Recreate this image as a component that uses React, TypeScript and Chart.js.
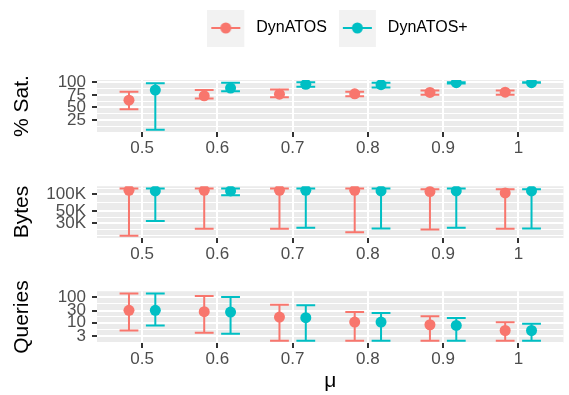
import React, { useEffect, useRef } from 'react';
import { Chart, registerables } from 'chart.js';

Chart.register(...registerables);

// ---------------- data ----------------
const muLabels = ['0.5', '0.6', '0.7', '0.8', '0.9', '1'];
const muValues = [0.5, 0.6, 0.7, 0.8, 0.9, 1.0];
const seriesNames = ['DynATOS', 'DynATOS+'];

// % Sat.
const satDynMean = [64.5, 73.2, 76.5, 77.2, 79.9, 80.5];
const satDynLow = [46.5, 67.9, 70.5, 72.5, 75.2, 75.5];
const satDynHigh = [81.2, 84.6, 85.9, 81.2, 83.9, 83.9];
const satPlusMean = [84.6, 88.6, 96.0, 95.3, 99.3, 99.4];
const satPlusLow = [5.7, 82.5, 91.2, 90.0, 97.5, 99.0];
const satPlusHigh = [98.0, 99.3, 100.0, 99.3, 100.0, 100.0];

// Bytes
const bytesDynMean = [118000, 118000, 118000, 118000, 112000, 106000];
const bytesDynLow = [17900, 23800, 23800, 20600, 23200, 23800];
const bytesDynHigh = [127000, 127000, 127000, 127000, 124000, 124000];
const bytesPlusMean = [115000, 115000, 118000, 115000, 115000, 115000];
const bytesPlusLow = [33000, 95800, 24800, 24100, 24800, 24100];
const bytesPlusHigh = [127000, 127000, 127000, 127000, 127000, 124000];

// Queries
const qDynMean = [30.8, 27.3, 16.7, 10.7, 8.4, 5.0];
const qDynLow = [5.0, 4.1, 2.0, 2.0, 2.0, 2.0];
const qDynHigh = [140, 113, 51.5, 26.3, 17.9, 10.4];
const qPlusMean = [30.8, 26.3, 15.9, 10.7, 7.9, 5.0];
const qPlusLow = [7.9, 3.7, 2.0, 2.0, 2.0, 2.0];
const qPlusHigh = [140, 103, 48.4, 24.1, 15.3, 9.2];

// tick breaks
const satTicks = [25, 50, 75, 100];
const satTickLabels = ['25', '50', '75', '100'];
const bytesTicks = [30000, 50000, 100000];
const bytesTickLabels = ['30K', '50K', '100K'];
const qTicks = [3, 10, 30, 100];
const qTickLabels = ['3', '10', '30', '100'];

// ---------------- style ----------------
const RED = '#F8766D';
const TEAL = '#00BFC4';
const FONT = "'Liberation Sans', Arial, Helvetica, sans-serif";
const TICK_COLOR = '#4D4D4D';
const PANEL_BG = '#EBEBEB';
const TICK_SIZE = 17;
const TITLE_SIZE = 21;
const DODGE = 0.0175;
const CAP = 0.0125;
const X_MIN = 0.44;
const X_MAX = 1.06;
const Y_AXIS_W = 97;
const LEGEND_H = 72;
const LEGEND_CX = 337.5;

function expand(lo: number, hi: number, log: boolean): [number, number] {
  if (log) {
    const a = Math.log10(lo), b = Math.log10(hi), d = (b - a) * 0.05;
    return [Math.pow(10, a - d), Math.pow(10, b + d)];
  }
  const d = (hi - lo) * 0.05;
  return [lo - d, hi + d];
}

// ggplot-like minor breaks (in transformed space)
function minorBreaks(majors: number[], lo: number, hi: number, log: boolean): number[] {
  const tf = (v: number) => (log ? Math.log10(v) : v);
  const inv = (v: number) => (log ? Math.pow(10, v) : v);
  const b = majors.map(tf);
  const L = tf(lo), H = tf(hi);
  const bd = b[1] - b[0];
  if (L < b[0]) b.unshift(b[0] - bd);
  if (H > b[b.length - 1]) b.push(b[b.length - 1] + bd);
  const out: number[] = [];
  for (let i = 0; i < b.length - 1; i++) {
    out.push(b[i]);
    out.push((b[i] + b[i + 1]) / 2);
  }
  out.push(b[b.length - 1]);
  const majorT = majors.map(tf);
  return out
    .filter((v) => v > L && v < H && !majorT.some((m) => Math.abs(m - v) < 1e-9))
    .map(inv);
}

// ---------------- plugins ----------------
const panelBg = {
  id: 'panelBg',
  beforeDraw(chart: any) {
    const { ctx, chartArea: a } = chart;
    ctx.save();
    ctx.fillStyle = PANEL_BG;
    ctx.fillRect(a.left, a.top, a.right - a.left, a.bottom - a.top);
    ctx.restore();
  },
};

const errorBars = {
  id: 'errorBars',
  beforeDatasetsDraw(chart: any) {
    const { ctx } = chart;
    const x = chart.scales.x;
    const y = chart.scales.y;
    chart.data.datasets.forEach((ds: any) => {
      if (!ds.errLow) return;
      ctx.save();
      ctx.strokeStyle = ds.borderColor;
      ctx.lineWidth = 2;
      ds.data.forEach((pt: any, i: number) => {
        const xc = x.getPixelForValue(pt.x);
        const xl = x.getPixelForValue(pt.x - CAP);
        const xr = x.getPixelForValue(pt.x + CAP);
        const yl = y.getPixelForValue(ds.errLow[i]);
        const yh = y.getPixelForValue(ds.errHigh[i]);
        ctx.beginPath();
        ctx.moveTo(xc, yl);
        ctx.lineTo(xc, yh);
        ctx.moveTo(xl, yl);
        ctx.lineTo(xr, yl);
        ctx.moveTo(xl, yh);
        ctx.lineTo(xr, yh);
        ctx.stroke();
      });
      ctx.restore();
    });
  },
};

const legendTweak = {
  id: 'legendTweak',
  beforeLayout(chart: any) {
    const lg = chart.legend;
    if (lg && !lg._patchedFit) {
      const orig = lg.fit;
      lg.fit = function () {
        orig.call(this);
        if (this.options && this.options.display) this.height = LEGEND_H;
      };
      lg._patchedFit = true;
    }
  },
  afterLayout(chart: any) {
    const lg = chart.legend;
    if (!lg || !lg.options.display) return;
    const half = Math.min(LEGEND_CX, chart.width - LEGEND_CX);
    lg.left = LEGEND_CX - half;
    lg.right = LEGEND_CX + half;
    lg.width = 2 * half;
  },
};

function makeGlyph(color: string): HTMLCanvasElement {
  const c = document.createElement('canvas');
  c.width = 41;
  c.height = 38;
  const g = c.getContext('2d')!;
  g.fillStyle = '#F2F2F2';
  g.fillRect(0, 1, 37, 37);
  g.strokeStyle = color;
  g.lineWidth = 2;
  g.beginPath();
  g.moveTo(4, 19);
  g.lineTo(33, 19);
  g.stroke();
  g.fillStyle = color;
  g.beginPath();
  g.arc(18.5, 19, 5.5, 0, Math.PI * 2);
  g.fill();
  return c;
}

interface PanelSpec {
  log: boolean;
  means: number[][];
  lows: number[][];
  highs: number[][];
  ticks: number[];
  tickLabels: string[];
  yTitle: string;
  xTitle?: string;
  xHeight: number;
  padTop: number;
  legend: boolean;
}

function makeConfig(p: PanelSpec, glyphs: HTMLCanvasElement[]): any {
  const allLow = Math.min(...p.lows.flat(), ...p.means.flat());
  const allHigh = Math.max(...p.highs.flat(), ...p.means.flat());
  const [yMin, yMax] = expand(allLow, allHigh, p.log);
  const minors = minorBreaks(p.ticks, yMin, yMax, p.log);
  const colors = [RED, TEAL];
  const offsets = [-DODGE, DODGE];
  const datasets = seriesNames.map((name, s) => ({
    label: name,
    data: muValues.map((m, i) => ({ x: m + offsets[s], y: p.means[s][i] })),
    backgroundColor: colors[s],
    borderColor: colors[s],
    pointRadius: 5.5,
    pointBorderWidth: 0,
    pointHoverRadius: 5.5,
    errLow: p.lows[s],
    errHigh: p.highs[s],
  }));
  const isMinor = (ctx: any) => ctx.tick && ctx.tick.kind === 'minor';
  return {
    type: 'scatter',
    data: { datasets },
    plugins: [panelBg, errorBars, legendTweak],
    options: {
      animation: false,
      responsive: false,
      devicePixelRatio: 1,
      events: [],
      layout: { padding: { top: p.padTop, left: 0, right: 1, bottom: 0 } },
      plugins: {
        tooltip: { enabled: false },
        legend: {
          display: p.legend,
          position: 'top',
          align: 'center',
          labels: {
            usePointStyle: true,
            pointStyleWidth: 41,
            boxHeight: 16,
            padding: 12,
            color: '#000000',
            font: { family: FONT, size: 16 },
            generateLabels: (chart: any) =>
              chart.data.datasets.map((ds: any, i: number) => ({
                text: ds.label,
                pointStyle: glyphs[i],
                fillStyle: ds.backgroundColor,
                strokeStyle: ds.borderColor,
                lineWidth: 0,
                hidden: false,
                datasetIndex: i,
                fontColor: '#000000',
              })),
          },
        },
      },
      scales: {
        x: {
          type: 'linear',
          min: X_MIN,
          max: X_MAX,
          bounds: 'data',
          afterBuildTicks: (s: any) => {
            s.ticks = muValues.map((v) => ({ value: v }));
          },
          afterFit: (s: any) => {
            s.height = p.xHeight;
          },
          ticks: {
            autoSkip: false,
            maxRotation: 0,
            padding: 1,
            color: TICK_COLOR,
            font: { family: FONT, size: TICK_SIZE },
            callback: (_v: any, i: number) => muLabels[i],
          },
          grid: {
            color: '#FFFFFF',
            lineWidth: 2,
            tickColor: '#333333',
            tickLength: 5,
            tickWidth: 2,
          },
          border: { display: false },
          title: {
            display: !!p.xTitle,
            text: p.xTitle || '',
            color: '#000000',
            font: { family: FONT, size: TITLE_SIZE },
            padding: { top: 0, bottom: 1 },
          },
        },
        y: {
          type: p.log ? 'logarithmic' : 'linear',
          min: yMin,
          max: yMax,
          bounds: 'data',
          afterBuildTicks: (s: any) => {
            const t = [
              ...p.ticks.map((v) => ({ value: v, kind: 'major' })),
              ...minors.map((v) => ({ value: v, kind: 'minor' })),
            ];
            t.sort((a, b) => a.value - b.value);
            s.ticks = t;
          },
          afterFit: (s: any) => {
            s.width = Y_AXIS_W;
          },
          ticks: {
            autoSkip: false,
            padding: 6,
            color: TICK_COLOR,
            font: { family: FONT, size: TICK_SIZE },
            callback: (v: any, i: number, ticks: any[]) => {
              if (ticks[i] && ticks[i].kind === 'minor') return '';
              const k = p.ticks.indexOf(v);
              return k >= 0 ? p.tickLabels[k] : '';
            },
          },
          grid: {
            color: '#FFFFFF',
            lineWidth: (ctx: any) => (isMinor(ctx) ? 1 : 2),
            tickColor: (ctx: any) => (isMinor(ctx) ? 'rgba(0,0,0,0)' : '#333333'),
            tickLength: 5,
            tickWidth: 2,
          },
          border: { display: false },
          title: {
            display: true,
            text: p.yTitle,
            color: '#000000',
            font: { family: FONT, size: TITLE_SIZE },
            padding: { top: 10, bottom: 0 },
          },
        },
      },
    },
  };
}

export default function App() {
  const r1 = useRef<HTMLCanvasElement>(null);
  const r2 = useRef<HTMLCanvasElement>(null);
  const r3 = useRef<HTMLCanvasElement>(null);

  useEffect(() => {
    const glyphs = [makeGlyph(RED), makeGlyph(TEAL)];
    const specs: PanelSpec[] = [
      {
        log: false,
        means: [satDynMean, satPlusMean],
        lows: [satDynLow, satPlusLow],
        highs: [satDynHigh, satPlusHigh],
        ticks: satTicks,
        tickLabels: satTickLabels,
        yTitle: '% Sat.',
        xHeight: 38,
        padTop: 8,
        legend: true,
      },
      {
        log: true,
        means: [bytesDynMean, bytesPlusMean],
        lows: [bytesDynLow, bytesPlusLow],
        highs: [bytesDynHigh, bytesPlusHigh],
        ticks: bytesTicks,
        tickLabels: bytesTickLabels,
        yTitle: 'Bytes',
        xHeight: 38,
        padTop: 16,
        legend: false,
      },
      {
        log: true,
        means: [qDynMean, qPlusMean],
        lows: [qDynLow, qPlusLow],
        highs: [qDynHigh, qPlusHigh],
        ticks: qTicks,
        tickLabels: qTickLabels,
        yTitle: 'Queries',
        xTitle: 'μ',
        xHeight: 52,
        padTop: 16,
        legend: false,
      },
    ];
    const refs = [r1, r2, r3];
    const charts = specs.map((s, i) => new Chart(refs[i].current as HTMLCanvasElement, makeConfig(s, glyphs)));
    return () => charts.forEach((c) => c.destroy());
  }, []);

  return (
    <div style={{ position: 'absolute', left: 0, top: 0, width: 569, height: 395, background: '#FFFFFF', overflow: 'hidden' }}>
      <canvas ref={r1} width={569} height={170} style={{ position: 'absolute', left: 0, top: 0, width: 569, height: 170 }} />
      <canvas ref={r2} width={569} height={106} style={{ position: 'absolute', left: 0, top: 170, width: 569, height: 106 }} />
      <canvas ref={r3} width={569} height={120} style={{ position: 'absolute', left: 0, top: 275, width: 569, height: 120 }} />
    </div>
  );
}
